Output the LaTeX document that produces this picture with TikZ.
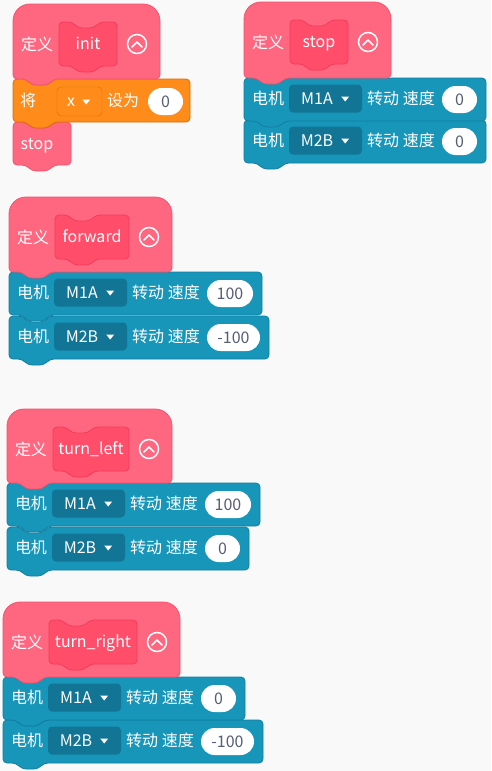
\documentclass[tikz,border=0pt]{standalone}
\usepackage{fontspec}
\setmainfont{Noto Sans CJK SC}
\usepackage{tikz}

\definecolor{bggray}{HTML}{F9F9F9}
\definecolor{hatpink}{HTML}{FF6680}
\definecolor{hatedge}{HTML}{F2546F}
\definecolor{protopink}{HTML}{FF4D6A}
\definecolor{protoedge}{HTML}{F23D5C}
\definecolor{varorange}{HTML}{FF8C1A}
\definecolor{varedge}{HTML}{DB6E00}
\definecolor{motorblue}{HTML}{1796BA}
\definecolor{motoredge}{HTML}{107FA0}
\definecolor{ddblue}{HTML}{127595}
\definecolor{ovaltext}{HTML}{575E75}

\newcommand{\blkfont}{\fontsize{16}{18}\selectfont}
% stack block: x, y, width, height, style
\newcommand{\stackblk}[5]{%
  \draw[#5, rounded corners=4] (#1,#2+10) -- (#1,#2) -- (#1+13,#2) -- (#1+19,#2+6)
    -- (#1+35,#2+6) -- (#1+41,#2) -- (#1+#3,#2) -- (#1+#3,#2+#4) -- (#1+41,#2+#4)
    -- (#1+35,#2+#4+6) -- (#1+19,#2+#4+6) -- (#1+13,#2+#4) -- (#1,#2+#4) -- cycle;}
% define hat: x, y, width, height, style
\newcommand{\hatblk}[5]{%
  \draw[#5] (#1,#2+40) [rounded corners=17] -- (#1,#2) -- (#1+#3,#2) -- (#1+#3,#2+40)
    [rounded corners=4] -- (#1+#3,#2+#4) -- (#1+41,#2+#4) -- (#1+35,#2+#4+6)
    -- (#1+19,#2+#4+6) -- (#1+13,#2+#4) -- (#1,#2+#4) -- cycle;}

\begin{document}
\begin{tikzpicture}[x=1pt, y=-1pt,
  hat/.style={fill=hatpink, draw=hatedge, line width=0.8pt},
  proto/.style={fill=protopink, draw=protoedge, line width=0.8pt},
  var/.style={fill=varorange, draw=varedge, line width=0.8pt},
  motor/.style={fill=motorblue, draw=motoredge, line width=0.8pt},
  lbl/.style={text=white, font=\blkfont, inner sep=0pt, text height=11pt, text depth=0pt},
  dd/.style={fill=ddblue, rounded corners=4pt, minimum width=73pt, minimum height=28pt, inner sep=0pt},
  vdd/.style={fill=varorange, draw=varedge, rounded corners=4pt, minimum width=45pt,
              minimum height=29pt, inner sep=0pt},
  oval/.style={fill=white, rounded corners=13.5pt, minimum height=27pt, inner sep=0pt,
               text=ovaltext, font=\blkfont, text height=11pt, text depth=0pt},
  tog/.style={circle, draw=white, line width=1.5pt, minimum size=19pt, inner sep=0pt},
  chev/.style={white, line width=1.5pt, line cap=round, line join=round}]
\fill[bggray] (0,0) rectangle (491,771);
\useasboundingbox (0,0) rectangle (491,771);

% motor rows, lower row first so the tab above lies on top
\foreach \n/\x/\y/\port/\spd/\ow in {
    sb/244/120/M2B/0/35, sa/244/78/M1A/0/35,
    fb/9/316/M2B/-100/53, fa/9/272/M1A/100/46,
    lb/7/527/M2B/0/35, la/7/483/M1A/100/46,
    rb/3/720/M2B/-100/53, ra/3/677/M1A/0/35}{
  \stackblk{\x}{\y}{207+\ow}{43}{motor}
  \node[lbl] (m\n) at (\x+24,\y+21) {电机};
  \node[dd] (dd\n) at (\x+81.5,\y+20.5) {};
  \node[lbl] (p\n) at (\x+73,\y+21) {\port};
  \fill[white] ([shift={(-21,-2)}]dd\n.east) -- ++(8,0) -- ++(-4,5) -- cycle;
  \node[lbl] (t\n) at (\x+157,\y+21) {转动 速度};
  \node[oval, minimum width=\ow] (v\n) at (\x+198+\ow/2,\y+21.5) {\spd};
}

% init body
\stackblk{13}{122}{58}{43}{hat}
\node[lbl] (stopcall) at (37,144) {stop};
\stackblk{13}{79}{177}{43}{var}
\node[lbl] (setw) at (28,101) {将};
\node[vdd] (xdd) at (79.5,101.5) {};
\node[lbl] (xv) at (71,101) {x};
\fill[white] ([shift={(-20,-2)}]xdd.east) -- ++(8,0) -- ++(-4,5) -- cycle;
\node[lbl] (setto) at (123,101) {设为};
\node[oval, minimum width=35] (xval) at (165.5,101.5) {0};

% define hats
\foreach \n/\x/\y/\h/\name/\iw in {
    init/13/4/75/init/58, stop/244/2/76/stop/58, fwd/9/197/75/forward/74,
    left/7/409/74/turn\_left/76, right/3/602/75/turn\_right/88}{
  \hatblk{\x}{\y}{89+\iw}{\h}{hat}
  \node[lbl] (def\n) at (\x+24,\y+41) {定义};
  \stackblk{\x+46}{\y+18}{\iw}{44}{proto}
  \node[lbl] (nm\n) at (\x+46+\iw/2,\y+40) {\name};
  \node[tog] (tg\n) at (\x+66+\iw,\y+40) {};
  \draw[chev] ([shift={(-5,3)}]tg\n.center) -- ++(5,-5) -- ++(5,5);
}
\end{tikzpicture}
\end{document}
